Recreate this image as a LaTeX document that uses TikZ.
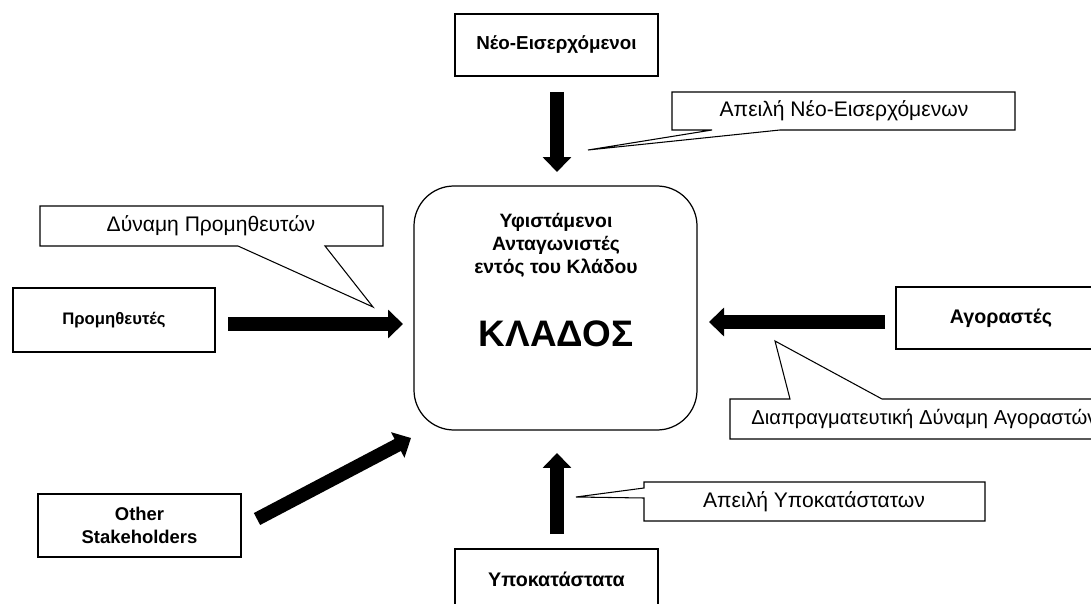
\documentclass[tikz,border=0pt]{standalone}
\usepackage{fontspec}
\setmainfont{Liberation Sans}
\usetikzlibrary{arrows.meta}
\begin{document}
\begin{tikzpicture}[x=0.02cm,y=-0.02cm,
  box/.style 2 args={draw, line width=0.7pt, fill=white, align=center, inner sep=0pt,
    minimum width=#1*0.02cm, minimum height=#2*0.02cm},
  bold/.style={font=\bfseries\fontsize{#1}{13}\selectfont},
  callout/.style={draw, line width=0.6pt, fill=white, line join=miter},
  calltext/.style={font=\fontsize{#1}{14}\selectfont, inner sep=0pt},
  calltext/.default=12,
  force/.style={line width=0.27cm, -{Triangle[width=0.56cm,length=0.3cm]}}
]
\useasboundingbox (0,0) rectangle (1091,604);
\clip (0,0) rectangle (1091,604);

% the five forces around the industry
\node[box={203}{62}, bold=10.7] (neo) at (556.5,45) {Νέο-Εισερχόμενοι};
\node[box={202}{64}, bold=9.5] (prom) at (114,320) {Προμηθευτές};
\node[box={210}{62}, bold=11.2] (agor) at (1001,318) {Αγοραστές};
\node[box={203}{63}, bold=10.5] (other) at (139.5,525.5) {Other\\Stakeholders};
\node[box={203}{60}, bold=11.2] (ypok) at (556.5,579) {Υποκατάστατα};

% the industry itself
\node[draw, line width=0.7pt, rounded corners=0.8cm, minimum width=283*0.02cm,
  minimum height=244*0.02cm] (klados) at (555.5,308) {};
\node[bold=11, align=center] (rivals) at (556,245) {Υφιστάμενοι\\Ανταγωνιστές\\εντός του Κλάδου};
\node[font=\bfseries\fontsize{21}{24}\selectfont] (kladostxt) at (556,334) {ΚΛΑΔΟΣ};

% arrows pointing at the industry
\coordinate (d1) at (557,92);   \coordinate (d2) at (557,172);
\coordinate (r1) at (228,324);  \coordinate (r2) at (403,324);
\coordinate (l1) at (885,322);  \coordinate (l2) at (709,322);
\coordinate (u1) at (557,534);  \coordinate (u2) at (557,453);
\coordinate (o1) at (257,519);  \coordinate (o2) at (411,438);
\draw[force] (d1) -- (d2);
\draw[force] (r1) -- (r2);
\draw[force] (l1) -- (l2);
\draw[force] (u1) -- (u2);
\draw[force] (o1) -- (o2);

% callouts
\coordinate (t1) at (588,150);
\draw[callout] (672,92) -- (1015,92) -- (1015,130) -- (780,130) -- (t1)
  -- (712,130) -- (672,130) -- cycle;
\node[calltext] (c1) at (844,111) {Απειλή Νέο-Εισερχόμενων};

\coordinate (t2) at (373,307);
\draw[callout] (40,206) -- (383,206) -- (383,246) -- (325,246) -- (t2)
  -- (238,246) -- (40,246) -- cycle;
\node[calltext] (c2) at (211,226) {Δύναμη Προμηθευτών};

\coordinate (t3) at (775,341);
\draw[callout] (730,399) -- (790,399) -- (t3) -- (882,399) -- (1100,399)
  -- (1100,439) -- (730,439) -- cycle;
\node[calltext=11.5, anchor=west] (c3) at (751,419) {Διαπραγματευτική Δύναμη Αγοραστών};

\coordinate (t4) at (576,497);
\draw[callout] (644,482) -- (985,482) -- (985,521) -- (644,521) -- (644,498)
  -- (t4) -- (644,488) -- cycle;
\node[calltext] (c4) at (814,501.5) {Απειλή Υποκατάστατων};
\end{tikzpicture}
\end{document}
